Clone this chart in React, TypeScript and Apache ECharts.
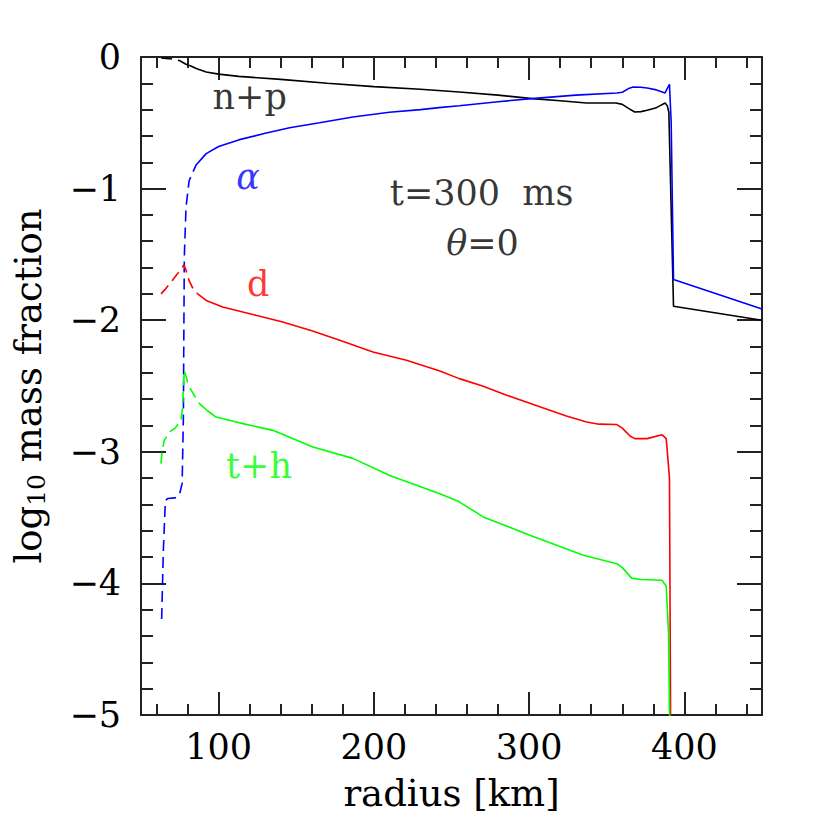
import React, { useEffect, useRef } from "react";
import * as echarts from "echarts";

// ---- data (radius [km], log10 mass fraction) ----
const npDashR = [63, 68, 72, 75, 77, 79, 81];
const npDashV = [-0.008, -0.012, -0.018, -0.028, -0.042, -0.055, -0.063];
const npR = [81, 86, 92, 100, 113, 140, 170, 200, 230, 255, 280, 302, 320, 337, 356, 360, 364, 368, 372, 376, 382, 387.6, 389, 390, 393, 450];
const npV = [-0.063, -0.09, -0.114, -0.13, -0.147, -0.17, -0.2, -0.225, -0.245, -0.266, -0.29, -0.316, -0.333, -0.35, -0.35, -0.36, -0.39, -0.418, -0.415, -0.405, -0.385, -0.35, -0.37, -0.42, -1.894, -2.0];

const alDashR = [63.3, 64.4, 65.7, 67.2, 72, 74.7, 76.5, 77.3, 77.5, 77.9, 79, 81, 85.5];
const alDashV = [-4.27, -3.75, -3.37, -3.355, -3.35, -3.33, -3.24, -2.74, -2.3, -1.52, -1.14, -0.94, -0.82];
const alR = [85.5, 92, 100, 113.4, 130, 145.7, 165, 186.5, 210, 230, 242, 255, 280, 301.6, 330, 356.5, 360, 364, 367, 372, 376, 382, 387.6, 390.4, 391.5, 393, 450];
const alV = [-0.82, -0.734, -0.68, -0.628, -0.58, -0.537, -0.5, -0.456, -0.42, -0.4, -0.385, -0.37, -0.34, -0.316, -0.29, -0.273, -0.268, -0.24, -0.228, -0.23, -0.235, -0.25, -0.273, -0.207, -0.5, -1.69, -1.915];

const dDashR = [62.9, 66, 70, 74, 76.8, 77.5, 79, 81, 83.5, 86.5];
const dDashV = [-1.8, -1.76, -1.7, -1.64, -1.595, -1.58, -1.62, -1.7, -1.76, -1.8];
const dR = [86.5, 92, 102.6, 124, 141.3, 160, 178, 199.4, 221, 242.5, 255, 270, 285.5, 305, 324, 337, 345, 356.5, 360, 365, 368, 376, 385.5, 388.3, 390.4, 391.3];
const dV = [-1.8, -1.85, -1.9, -1.963, -2.013, -2.08, -2.153, -2.242, -2.305, -2.386, -2.444, -2.5, -2.57, -2.65, -2.728, -2.773, -2.79, -2.793, -2.82, -2.88, -2.9, -2.9, -2.87, -2.9, -3.2, -5.5];

const thDashR = [62.9, 63.5, 65, 68.3, 72, 75.8, 76.8, 77.9, 80, 82.2, 87.6];
const thDashV = [-3.09, -3.0, -2.913, -2.85, -2.82, -2.76, -2.66, -2.38, -2.47, -2.53, -2.634];
const thR = [87.6, 93, 98.4, 113.4, 135, 148, 160.7, 186.5, 210.2, 242.5, 255, 270.4, 300.5, 334.9, 356.5, 360, 366, 372, 385.5, 388.3, 389.8, 391];
const thV = [-2.634, -2.69, -2.736, -2.78, -2.837, -2.9, -2.964, -3.05, -3.18, -3.318, -3.38, -3.495, -3.634, -3.786, -3.85, -3.88, -3.96, -3.97, -3.976, -4.02, -4.38, -5.5];

const xMajorTicks = [100, 200, 300, 400];
const xMinorTicks = [60, 80, 120, 140, 160, 180, 220, 240, 260, 280, 320, 340, 360, 380, 420, 440];
const yMajorTicks = [-5, -4, -3, -2, -1, 0];
const yMinorTicks = [-4.8, -4.6, -4.4, -4.2, -3.8, -3.6, -3.4, -3.2, -2.8, -2.6, -2.4, -2.2, -1.8, -1.6, -1.4, -1.2, -0.8, -0.6, -0.4, -0.2];

const labelTexts = ["n+p", "α", "d", "t+h", "t=300  ms", "θ=0"];
const labelR = [120, 119, 125.5, 126, 269.4, 270];
const labelV = [-0.304, -0.912, -1.725, -3.108, -1.033, -1.413];
const labelColors = ["#000000", "#0000ff", "#ff0000", "#00ff00", "#000000", "#000000"];

const FONT = "DejaVu Serif";
const BLACK = "#000000";
const BLUE = "#0000ff";
const RED = "#ff0000";
const GREEN = "#00ff00";
const FRAME = "#222222";

const zip = (r: number[], v: number[]) => r.map((x, i) => [x, v[i]]);

export default function App() {
  const ref = useRef<HTMLDivElement>(null);
  useEffect(() => {
    if (!ref.current) return;
    const chart = echarts.init(ref.current, null, { renderer: "svg" });
    const tickStyle = { color: FRAME, width: 2 };

    const xBase = { type: "value", min: 50, max: 450, gridIndex: 0, splitLine: { show: false } };
    const yBase = { type: "value", min: -5, max: 0, interval: 1, gridIndex: 0, splitLine: { show: false } };

    const tickAxis = (base: any, position: string, values: number[], length: number) => ({
      ...base,
      position,
      axisLine: { show: false, onZero: false },
      axisTick: { show: true, inside: true, length, customValues: values, lineStyle: tickStyle },
      axisLabel: { show: false },
      minorTick: { show: false },
    });

    const lineSeries = (data: number[][], color: string, dashed: boolean) => ({
      type: "line",
      data,
      xAxisIndex: 0,
      yAxisIndex: 0,
      showSymbol: false,
      symbol: "none",
      clip: true,
      lineStyle: { color, width: 1.6, type: dashed ? [11, 6] : "solid" },
      z: 3,
    });

    const annData = labelTexts.map((t, i) => {
      let fmt = t;
      if (t === "α") fmt = "{i|α}";
      if (t === "θ=0") fmt = "{i|θ}=0";
      return { value: [labelR[i], labelV[i]], label: { formatter: fmt, color: labelColors[i] } };
    });

    chart.setOption({
      animation: false,
      backgroundColor: "#ffffff",
      grid: { left: 141, right: 68, top: 57, bottom: 115, containLabel: false },
      xAxis: [
        {
          ...xBase,
          position: "bottom",
          name: "radius [km]",
          nameLocation: "middle",
          nameGap: 60,
          nameTextStyle: { fontFamily: FONT, fontSize: 37, color: "#000" },
          axisLine: { show: true, onZero: false, lineStyle: { color: FRAME, width: 2 } },
          axisTick: { show: false },
          axisLabel: { show: true, customValues: xMajorTicks, margin: 14, fontFamily: FONT, fontSize: 35, color: "#000" },
        },
        tickAxis(xBase, "bottom", xMajorTicks, 23),
        tickAxis(xBase, "bottom", xMinorTicks, 11),
        {
          ...xBase,
          position: "top",
          axisLine: { show: true, onZero: false, lineStyle: { color: FRAME, width: 2 } },
          axisTick: { show: false },
          axisLabel: { show: false },
        },
        tickAxis(xBase, "top", xMajorTicks, 23),
        tickAxis(xBase, "top", xMinorTicks, 11),
      ],
      yAxis: [
        {
          ...yBase,
          position: "left",
          name: "{a|log}{s|10}{a| mass fraction}",
          nameLocation: "middle",
          nameGap: 92,
          nameRotate: 90,
          nameTextStyle: {
            color: "#000",
            rich: {
              a: { fontFamily: FONT, fontSize: 37, color: "#000" },
              s: { fontFamily: FONT, fontSize: 25, color: "#000", padding: [16, 0, 0, 0] },
            },
          },
          axisLine: { show: true, onZero: false, lineStyle: { color: FRAME, width: 2 } },
          axisTick: { show: false },
          axisLabel: {
            show: true,
            margin: 20,
            fontFamily: FONT,
            fontSize: 35,
            color: "#000",
            formatter: (v: number) => (v === 0 ? "0" : "\u2212" + Math.abs(v)),
          },
        },
        tickAxis(yBase, "left", yMajorTicks, 25),
        tickAxis(yBase, "left", yMinorTicks, 12),
        {
          ...yBase,
          position: "right",
          axisLine: { show: true, onZero: false, lineStyle: { color: FRAME, width: 2 } },
          axisTick: { show: false },
          axisLabel: { show: false },
        },
        tickAxis(yBase, "right", yMajorTicks, 25),
        tickAxis(yBase, "right", yMinorTicks, 12),
      ],
      series: [
        lineSeries(zip(npDashR, npDashV), BLACK, true),
        lineSeries(zip(npR, npV), BLACK, false),
        lineSeries(zip(alDashR, alDashV), BLUE, true),
        lineSeries(zip(alR, alV), BLUE, false),
        lineSeries(zip(dDashR, dDashV), RED, true),
        lineSeries(zip(dR, dV), RED, false),
        lineSeries(zip(thDashR, thDashV), GREEN, true),
        lineSeries(zip(thR, thV), GREEN, false),
        {
          type: "scatter",
          xAxisIndex: 0,
          yAxisIndex: 0,
          symbolSize: 0,
          silent: true,
          data: annData,
          label: {
            show: true,
            position: "inside",
            fontFamily: FONT,
            fontSize: 35,
            rich: { i: { fontFamily: FONT, fontStyle: "italic", fontSize: 35 } },
          },
          z: 5,
        },
      ],
    });
    return () => chart.dispose();
  }, []);
  return (
    <div
      ref={ref}
      style={{ position: "fixed", left: 0, top: 0, width: 830, height: 830, background: "#fff" }}
    />
  );
}
